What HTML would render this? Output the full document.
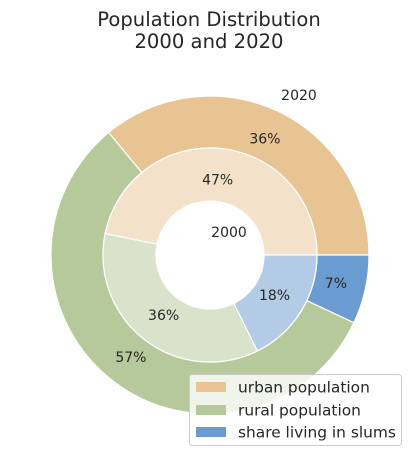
<!DOCTYPE html>
<html><head><meta charset="utf-8"><style>
body{margin:0;background:#fff;font-family:"DejaVu Sans","Liberation Sans",sans-serif;}
svg text{font-family:"DejaVu Sans","Liberation Sans",sans-serif;}
</style></head><body>
<svg id="c" width="418" height="464" viewBox="0 0 418 464" xmlns="http://www.w3.org/2000/svg">
<text x="209" y="26" text-anchor="middle" font-size="19.6" fill="#262626">Population Distribution</text>
<text x="209" y="48" text-anchor="middle" font-size="19.6" fill="#262626">2000 and 2020</text>
<g id="rings"></g>
<g>
<rect x="189.5" y="374.5" width="212" height="71" rx="3" fill="#fff" fill-opacity="0.8" stroke="#ccc"/>
<rect x="196" y="382" width="30" height="10" fill="#e9c493"/>
<text x="238" y="392.5" font-size="15.4" fill="#262626">urban population</text>
<rect x="196" y="405" width="30" height="10" fill="#b5c99a"/>
<text x="238" y="415.5" font-size="15.4" fill="#262626">rural population</text>
<rect x="196" y="427" width="30" height="10" fill="#6a9bd1"/>
<text x="238" y="437.5" font-size="15.4" fill="#262626">share living in slums</text>
</g>
</svg>
<script>
const categories = ["urban", "rural", "slums"];
const values2020 = [36, 57, 7];
const values2000 = [46.8, 35.5, 17.7];
const labels2020 = ["36%", "57%", "7%"];
const labels2000 = ["47%", "36%", "18%"];
const outerColors = ["#e9c493", "#b5c99a", "#6a9bd1"];
const innerColors = ["#f4e1c9", "#d9e3cb", "#b4cbe6"];
const cx = 210, cy = 255;
const NS = "http://www.w3.org/2000/svg";
const g = document.getElementById("rings");
function pt(r, a){ return [cx + r*Math.cos(a), cy - r*Math.sin(a)]; }
function ring(vals, labels, colors, r0, r1, lr, name){
  const tot = vals.reduce((s,v)=>s+v,0);
  let a = 0;
  vals.forEach((v,i)=>{
    const da = v/tot*2*Math.PI, b = a+da;
    const p1=pt(r1,a), p2=pt(r1,b), p3=pt(r0,b), p4=pt(r0,a);
    const lg = da>Math.PI?1:0;
    const d=`M${p1[0]},${p1[1]} A${r1},${r1} 0 ${lg} 0 ${p2[0]},${p2[1]} L${p3[0]},${p3[1]} A${r0},${r0} 0 ${lg} 1 ${p4[0]},${p4[1]} Z`;
    const path=document.createElementNS(NS,"path");
    path.setAttribute("d",d);path.setAttribute("fill",colors[i]);
    path.setAttribute("stroke","#fff");path.setAttribute("stroke-width","1.2");
    
    
    g.appendChild(path);
    const m=pt(lr,(a+b)/2);
    const t=document.createElementNS(NS,"text");
    t.setAttribute("x",m[0]);t.setAttribute("y",m[1]+5);
    t.setAttribute("text-anchor","middle");t.setAttribute("font-size","14");t.setAttribute("fill","#262626");
    t.textContent=labels[i];
    
    
    g.appendChild(t);
    a=b;
  });
}
ring(values2020, labels2020, outerColors, 107, 159, 129, "ring-2020");
ring(values2000, labels2000, innerColors, 54, 107, 76, "ring-2000");
function lab(x,y,s,n){const t=document.createElementNS(NS,"text");t.setAttribute("x",x);t.setAttribute("y",y);t.setAttribute("text-anchor","middle");t.setAttribute("font-size","14");t.setAttribute("fill","#262626");t.textContent=s;


g.appendChild(t);}
lab(299,100,"2020","ring-2020-title");
lab(229,237,"2000","ring-2000-title");
</script>
</body></html>
